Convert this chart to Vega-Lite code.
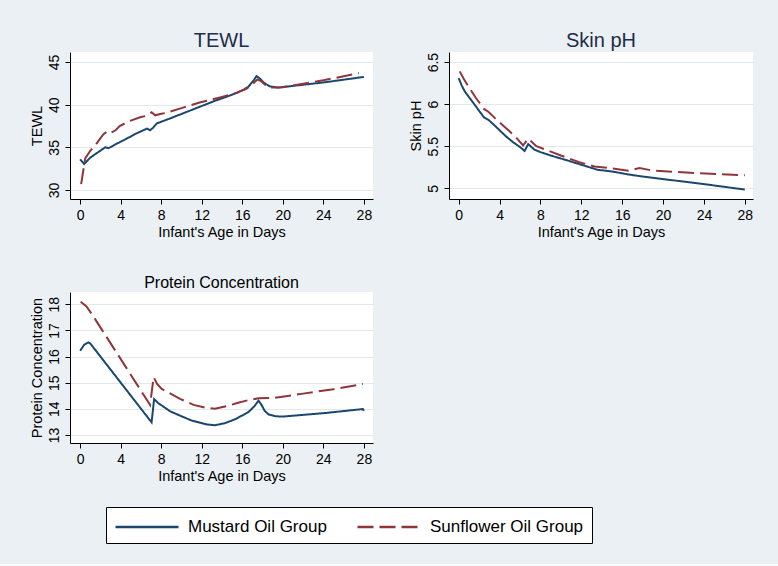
{
  "$schema": "https://vega.github.io/schema/vega-lite/v6.json",
  "background": "#eaf0f3",
  "padding": {"left": 28, "top": 31, "right": 28, "bottom": 20},
  "config": {
    "font": "Liberation Sans",
    "view": {"fill": "white", "stroke": null},
    "axis": {
      "domainColor": "#000000", "domainWidth": 1,
      "tickColor": "#000000", "tickSize": 5, "tickWidth": 1,
      "labelColor": "#000000", "labelFontSize": 14, "labelPadding": 4,
      "titleColor": "#000000", "titleFontSize": 14.5, "titleFontWeight": "normal", "titlePadding": 3,
      "gridColor": "#e1e9ee", "gridWidth": 1
    },
    "axisX": {"grid": false},
    "axisY": {"grid": true, "labelAngle": -90, "format": "~g"},
    "title": {"fontWeight": "normal", "offset": 1},
    "legend": {
      "orient": "none", "legendX": 36, "legendY": 455,
      "direction": "horizontal", "columns": 2,
      "fillColor": "white", "strokeColor": "#000000",
      "padding": 8, "labelFontSize": 17, "labelColor": "#000000", "labelOffset": 50,
      "columnPadding": 25, "symbolType": "M-1,0H5", "symbolSize": 441, "symbolStrokeWidth": 2.5
    }
  },
  "data": {"values": [
    {"panel": "TEWL", "group": "Mustard Oil Group", "day": 0.0, "value": 33.6},
    {"panel": "TEWL", "group": "Mustard Oil Group", "day": 0.4, "value": 33.05},
    {"panel": "TEWL", "group": "Mustard Oil Group", "day": 1.0, "value": 33.8},
    {"panel": "TEWL", "group": "Mustard Oil Group", "day": 1.8, "value": 34.45},
    {"panel": "TEWL", "group": "Mustard Oil Group", "day": 2.47, "value": 35.0},
    {"panel": "TEWL", "group": "Mustard Oil Group", "day": 2.8, "value": 34.9},
    {"panel": "TEWL", "group": "Mustard Oil Group", "day": 3.4, "value": 35.3},
    {"panel": "TEWL", "group": "Mustard Oil Group", "day": 4.4, "value": 35.9},
    {"panel": "TEWL", "group": "Mustard Oil Group", "day": 5.5, "value": 36.6},
    {"panel": "TEWL", "group": "Mustard Oil Group", "day": 6.6, "value": 37.2},
    {"panel": "TEWL", "group": "Mustard Oil Group", "day": 6.9, "value": 37.0},
    {"panel": "TEWL", "group": "Mustard Oil Group", "day": 7.2, "value": 37.3},
    {"panel": "TEWL", "group": "Mustard Oil Group", "day": 7.56, "value": 37.8},
    {"panel": "TEWL", "group": "Mustard Oil Group", "day": 8.9, "value": 38.4},
    {"panel": "TEWL", "group": "Mustard Oil Group", "day": 11.8, "value": 39.75},
    {"panel": "TEWL", "group": "Mustard Oil Group", "day": 13.3, "value": 40.45},
    {"panel": "TEWL", "group": "Mustard Oil Group", "day": 14.5, "value": 40.95},
    {"panel": "TEWL", "group": "Mustard Oil Group", "day": 15.5, "value": 41.4},
    {"panel": "TEWL", "group": "Mustard Oil Group", "day": 16.2, "value": 41.8},
    {"panel": "TEWL", "group": "Mustard Oil Group", "day": 16.6, "value": 42.1},
    {"panel": "TEWL", "group": "Mustard Oil Group", "day": 17.1, "value": 42.8},
    {"panel": "TEWL", "group": "Mustard Oil Group", "day": 17.4, "value": 43.35},
    {"panel": "TEWL", "group": "Mustard Oil Group", "day": 17.7, "value": 43.1},
    {"panel": "TEWL", "group": "Mustard Oil Group", "day": 18.1, "value": 42.6},
    {"panel": "TEWL", "group": "Mustard Oil Group", "day": 18.7, "value": 42.15},
    {"panel": "TEWL", "group": "Mustard Oil Group", "day": 19.5, "value": 42.0},
    {"panel": "TEWL", "group": "Mustard Oil Group", "day": 24.0, "value": 42.6},
    {"panel": "TEWL", "group": "Mustard Oil Group", "day": 28.0, "value": 43.25},

    {"panel": "TEWL", "group": "Sunflower Oil Group", "day": 0.1, "value": 30.7},
    {"panel": "TEWL", "group": "Sunflower Oil Group", "day": 0.3, "value": 32.2},
    {"panel": "TEWL", "group": "Sunflower Oil Group", "day": 0.5, "value": 33.7},
    {"panel": "TEWL", "group": "Sunflower Oil Group", "day": 1.0, "value": 34.6},
    {"panel": "TEWL", "group": "Sunflower Oil Group", "day": 1.5, "value": 35.25},
    {"panel": "TEWL", "group": "Sunflower Oil Group", "day": 2.3, "value": 36.55},
    {"panel": "TEWL", "group": "Sunflower Oil Group", "day": 2.8, "value": 36.95},
    {"panel": "TEWL", "group": "Sunflower Oil Group", "day": 3.1, "value": 36.75},
    {"panel": "TEWL", "group": "Sunflower Oil Group", "day": 3.5, "value": 37.0},
    {"panel": "TEWL", "group": "Sunflower Oil Group", "day": 3.9, "value": 37.5},
    {"panel": "TEWL", "group": "Sunflower Oil Group", "day": 4.9, "value": 38.1},
    {"panel": "TEWL", "group": "Sunflower Oil Group", "day": 6.0, "value": 38.55},
    {"panel": "TEWL", "group": "Sunflower Oil Group", "day": 6.6, "value": 38.7},
    {"panel": "TEWL", "group": "Sunflower Oil Group", "day": 7.05, "value": 39.1},
    {"panel": "TEWL", "group": "Sunflower Oil Group", "day": 7.4, "value": 38.75},
    {"panel": "TEWL", "group": "Sunflower Oil Group", "day": 7.9, "value": 38.9},
    {"panel": "TEWL", "group": "Sunflower Oil Group", "day": 8.5, "value": 39.05},
    {"panel": "TEWL", "group": "Sunflower Oil Group", "day": 10.0, "value": 39.6},
    {"panel": "TEWL", "group": "Sunflower Oil Group", "day": 11.8, "value": 40.25},
    {"panel": "TEWL", "group": "Sunflower Oil Group", "day": 13.8, "value": 40.85},
    {"panel": "TEWL", "group": "Sunflower Oil Group", "day": 15.2, "value": 41.3},
    {"panel": "TEWL", "group": "Sunflower Oil Group", "day": 16.4, "value": 41.85},
    {"panel": "TEWL", "group": "Sunflower Oil Group", "day": 17.0, "value": 42.4},
    {"panel": "TEWL", "group": "Sunflower Oil Group", "day": 17.5, "value": 42.95},
    {"panel": "TEWL", "group": "Sunflower Oil Group", "day": 17.8, "value": 42.8},
    {"panel": "TEWL", "group": "Sunflower Oil Group", "day": 18.3, "value": 42.3},
    {"panel": "TEWL", "group": "Sunflower Oil Group", "day": 18.9, "value": 42.0},
    {"panel": "TEWL", "group": "Sunflower Oil Group", "day": 20.0, "value": 42.05},
    {"panel": "TEWL", "group": "Sunflower Oil Group", "day": 24.0, "value": 42.85},
    {"panel": "TEWL", "group": "Sunflower Oil Group", "day": 27.5, "value": 43.7},

    {"panel": "pH", "group": "Mustard Oil Group", "day": 0.0, "value": 6.31},
    {"panel": "pH", "group": "Mustard Oil Group", "day": 0.3, "value": 6.22},
    {"panel": "pH", "group": "Mustard Oil Group", "day": 0.6, "value": 6.15},
    {"panel": "pH", "group": "Mustard Oil Group", "day": 1.4, "value": 6.02},
    {"panel": "pH", "group": "Mustard Oil Group", "day": 2.0, "value": 5.92},
    {"panel": "pH", "group": "Mustard Oil Group", "day": 2.5, "value": 5.84},
    {"panel": "pH", "group": "Mustard Oil Group", "day": 2.9, "value": 5.815},
    {"panel": "pH", "group": "Mustard Oil Group", "day": 3.4, "value": 5.76},
    {"panel": "pH", "group": "Mustard Oil Group", "day": 4.0, "value": 5.69},
    {"panel": "pH", "group": "Mustard Oil Group", "day": 4.6, "value": 5.62},
    {"panel": "pH", "group": "Mustard Oil Group", "day": 5.3, "value": 5.55},
    {"panel": "pH", "group": "Mustard Oil Group", "day": 6.0, "value": 5.49},
    {"panel": "pH", "group": "Mustard Oil Group", "day": 6.45, "value": 5.445},
    {"panel": "pH", "group": "Mustard Oil Group", "day": 6.8, "value": 5.525},
    {"panel": "pH", "group": "Mustard Oil Group", "day": 7.4, "value": 5.46},
    {"panel": "pH", "group": "Mustard Oil Group", "day": 8.0, "value": 5.43},
    {"panel": "pH", "group": "Mustard Oil Group", "day": 9.0, "value": 5.39},
    {"panel": "pH", "group": "Mustard Oil Group", "day": 10.4, "value": 5.34},
    {"panel": "pH", "group": "Mustard Oil Group", "day": 12.0, "value": 5.28},
    {"panel": "pH", "group": "Mustard Oil Group", "day": 13.6, "value": 5.22},
    {"panel": "pH", "group": "Mustard Oil Group", "day": 15.0, "value": 5.2},
    {"panel": "pH", "group": "Mustard Oil Group", "day": 16.6, "value": 5.165},
    {"panel": "pH", "group": "Mustard Oil Group", "day": 17.7, "value": 5.145},
    {"panel": "pH", "group": "Mustard Oil Group", "day": 20.0, "value": 5.11},
    {"panel": "pH", "group": "Mustard Oil Group", "day": 24.0, "value": 5.05},
    {"panel": "pH", "group": "Mustard Oil Group", "day": 28.0, "value": 4.985},

    {"panel": "pH", "group": "Sunflower Oil Group", "day": 0.1, "value": 6.39},
    {"panel": "pH", "group": "Sunflower Oil Group", "day": 0.5, "value": 6.3},
    {"panel": "pH", "group": "Sunflower Oil Group", "day": 0.9, "value": 6.22},
    {"panel": "pH", "group": "Sunflower Oil Group", "day": 1.7, "value": 6.07},
    {"panel": "pH", "group": "Sunflower Oil Group", "day": 2.5, "value": 5.94},
    {"panel": "pH", "group": "Sunflower Oil Group", "day": 2.9, "value": 5.91},
    {"panel": "pH", "group": "Sunflower Oil Group", "day": 3.5, "value": 5.84},
    {"panel": "pH", "group": "Sunflower Oil Group", "day": 4.5, "value": 5.73},
    {"panel": "pH", "group": "Sunflower Oil Group", "day": 5.5, "value": 5.62},
    {"panel": "pH", "group": "Sunflower Oil Group", "day": 6.3, "value": 5.51},
    {"panel": "pH", "group": "Sunflower Oil Group", "day": 6.8, "value": 5.59},
    {"panel": "pH", "group": "Sunflower Oil Group", "day": 7.6, "value": 5.5},
    {"panel": "pH", "group": "Sunflower Oil Group", "day": 8.5, "value": 5.46},
    {"panel": "pH", "group": "Sunflower Oil Group", "day": 10.0, "value": 5.39},
    {"panel": "pH", "group": "Sunflower Oil Group", "day": 11.8, "value": 5.31},
    {"panel": "pH", "group": "Sunflower Oil Group", "day": 13.3, "value": 5.26},
    {"panel": "pH", "group": "Sunflower Oil Group", "day": 14.9, "value": 5.24},
    {"panel": "pH", "group": "Sunflower Oil Group", "day": 16.6, "value": 5.21},
    {"panel": "pH", "group": "Sunflower Oil Group", "day": 17.7, "value": 5.24},
    {"panel": "pH", "group": "Sunflower Oil Group", "day": 19.0, "value": 5.21},
    {"panel": "pH", "group": "Sunflower Oil Group", "day": 23.4, "value": 5.18},
    {"panel": "pH", "group": "Sunflower Oil Group", "day": 28.0, "value": 5.155},

    {"panel": "Protein", "group": "Mustard Oil Group", "day": 0.0, "value": 16.22},
    {"panel": "Protein", "group": "Mustard Oil Group", "day": 0.4, "value": 16.45},
    {"panel": "Protein", "group": "Mustard Oil Group", "day": 0.82, "value": 16.54},
    {"panel": "Protein", "group": "Mustard Oil Group", "day": 1.0, "value": 16.5},
    {"panel": "Protein", "group": "Mustard Oil Group", "day": 7.05, "value": 13.48},
    {"panel": "Protein", "group": "Mustard Oil Group", "day": 7.3, "value": 14.37},
    {"panel": "Protein", "group": "Mustard Oil Group", "day": 7.7, "value": 14.22},
    {"panel": "Protein", "group": "Mustard Oil Group", "day": 8.9, "value": 13.9},
    {"panel": "Protein", "group": "Mustard Oil Group", "day": 9.9, "value": 13.73},
    {"panel": "Protein", "group": "Mustard Oil Group", "day": 11.0, "value": 13.55},
    {"panel": "Protein", "group": "Mustard Oil Group", "day": 12.5, "value": 13.4},
    {"panel": "Protein", "group": "Mustard Oil Group", "day": 13.3, "value": 13.37},
    {"panel": "Protein", "group": "Mustard Oil Group", "day": 14.3, "value": 13.45},
    {"panel": "Protein", "group": "Mustard Oil Group", "day": 15.3, "value": 13.6},
    {"panel": "Protein", "group": "Mustard Oil Group", "day": 16.6, "value": 13.87},
    {"panel": "Protein", "group": "Mustard Oil Group", "day": 17.2, "value": 14.1},
    {"panel": "Protein", "group": "Mustard Oil Group", "day": 17.6, "value": 14.31},
    {"panel": "Protein", "group": "Mustard Oil Group", "day": 17.9, "value": 14.15},
    {"panel": "Protein", "group": "Mustard Oil Group", "day": 18.2, "value": 13.93},
    {"panel": "Protein", "group": "Mustard Oil Group", "day": 18.6, "value": 13.78},
    {"panel": "Protein", "group": "Mustard Oil Group", "day": 19.2, "value": 13.72},
    {"panel": "Protein", "group": "Mustard Oil Group", "day": 19.9, "value": 13.7},
    {"panel": "Protein", "group": "Mustard Oil Group", "day": 24.0, "value": 13.83},
    {"panel": "Protein", "group": "Mustard Oil Group", "day": 27.9, "value": 13.99},
    {"panel": "Protein", "group": "Mustard Oil Group", "day": 28.0, "value": 13.92},

    {"panel": "Protein", "group": "Sunflower Oil Group", "day": 0.05, "value": 18.1},
    {"panel": "Protein", "group": "Sunflower Oil Group", "day": 0.6, "value": 17.93},
    {"panel": "Protein", "group": "Sunflower Oil Group", "day": 1.15, "value": 17.63},
    {"panel": "Protein", "group": "Sunflower Oil Group", "day": 6.9, "value": 14.15},
    {"panel": "Protein", "group": "Sunflower Oil Group", "day": 7.25, "value": 15.21},
    {"panel": "Protein", "group": "Sunflower Oil Group", "day": 7.6, "value": 14.95},
    {"panel": "Protein", "group": "Sunflower Oil Group", "day": 8.05, "value": 14.76},
    {"panel": "Protein", "group": "Sunflower Oil Group", "day": 9.86, "value": 14.38},
    {"panel": "Protein", "group": "Sunflower Oil Group", "day": 11.2, "value": 14.15},
    {"panel": "Protein", "group": "Sunflower Oil Group", "day": 12.5, "value": 14.03},
    {"panel": "Protein", "group": "Sunflower Oil Group", "day": 13.3, "value": 14.0},
    {"panel": "Protein", "group": "Sunflower Oil Group", "day": 14.5, "value": 14.1},
    {"panel": "Protein", "group": "Sunflower Oil Group", "day": 15.5, "value": 14.22},
    {"panel": "Protein", "group": "Sunflower Oil Group", "day": 16.6, "value": 14.33},
    {"panel": "Protein", "group": "Sunflower Oil Group", "day": 17.6, "value": 14.4},
    {"panel": "Protein", "group": "Sunflower Oil Group", "day": 19.2, "value": 14.42},
    {"panel": "Protein", "group": "Sunflower Oil Group", "day": 22.0, "value": 14.58},
    {"panel": "Protein", "group": "Sunflower Oil Group", "day": 25.0, "value": 14.75},
    {"panel": "Protein", "group": "Sunflower Oil Group", "day": 27.9, "value": 14.95}
  ]},
  "spacing": 36,
  "vconcat": [
    {
      "spacing": 35,
      "hconcat": [
        {
          "width": 303, "height": 147,
          "title": {"text": "TEWL", "fontSize": 20, "color": "#1e2d4a"},
          "transform": [{"filter": "datum.panel === 'TEWL'"}],
          "mark": {"type": "line", "strokeWidth": 2},
          "encoding": {
            "x": {"field": "day", "type": "quantitative", "scale": {"domain": [-1, 28.9], "nice": false, "zero": false}, "axis": {"values": [0, 4, 8, 12, 16, 20, 24, 28], "title": "Infant's Age in Days"}},
            "y": {"field": "value", "type": "quantitative", "scale": {"domain": [28.95, 46.17], "nice": false, "zero": false}, "axis": {"values": [30, 35, 40, 45], "title": "TEWL"}},
            "color": {"field": "group", "type": "nominal", "scale": {"domain": ["Mustard Oil Group", "Sunflower Oil Group"], "range": ["#1a476f", "#90353b"]}, "legend": {"title": null}},
            "strokeDash": {"field": "group", "type": "nominal", "scale": {"domain": ["Mustard Oil Group", "Sunflower Oil Group"], "range": [[1, 0], [16, 6]]}, "legend": {"title": null}}
          }
        },
        {
          "width": 304, "height": 147,
          "title": {"text": "Skin pH", "fontSize": 20, "color": "#1e2d4a"},
          "transform": [{"filter": "datum.panel === 'pH'"}],
          "mark": {"type": "line", "strokeWidth": 2},
          "encoding": {
            "x": {"field": "day", "type": "quantitative", "scale": {"domain": [-0.95, 28.8], "nice": false, "zero": false}, "axis": {"values": [0, 4, 8, 12, 16, 20, 24, 28], "title": "Infant's Age in Days"}},
            "y": {"field": "value", "type": "quantitative", "scale": {"domain": [4.873, 6.62], "nice": false, "zero": false}, "axis": {"values": [5, 5.5, 6, 6.5], "title": "Skin pH"}},
            "color": {"field": "group", "type": "nominal", "scale": {"domain": ["Mustard Oil Group", "Sunflower Oil Group"], "range": ["#1a476f", "#90353b"]}, "legend": {"title": null}},
            "strokeDash": {"field": "group", "type": "nominal", "scale": {"domain": ["Mustard Oil Group", "Sunflower Oil Group"], "range": [[1, 0], [16, 6]]}, "legend": {"title": null}}
          }
        }
      ]
    },
    {
      "width": 303, "height": 151,
      "title": {"text": "Protein Concentration", "fontSize": 16, "color": "#000000"},
      "transform": [{"filter": "datum.panel === 'Protein'"}],
      "mark": {"type": "line", "strokeWidth": 2},
      "encoding": {
        "x": {"field": "day", "type": "quantitative", "scale": {"domain": [-1, 28.9], "nice": false, "zero": false}, "axis": {"values": [0, 4, 8, 12, 16, 20, 24, 28], "title": "Infant's Age in Days"}},
        "y": {"field": "value", "type": "quantitative", "scale": {"domain": [12.69, 18.47], "nice": false, "zero": false}, "axis": {"values": [13, 14, 15, 16, 17, 18], "title": "Protein Concentration"}},
        "color": {"field": "group", "type": "nominal", "scale": {"domain": ["Mustard Oil Group", "Sunflower Oil Group"], "range": ["#1a476f", "#90353b"]}, "legend": {"title": null}},
        "strokeDash": {"field": "group", "type": "nominal", "scale": {"domain": ["Mustard Oil Group", "Sunflower Oil Group"], "range": [[1, 0], [16, 6]]}, "legend": {"title": null}}
      }
    }
  ]
}
